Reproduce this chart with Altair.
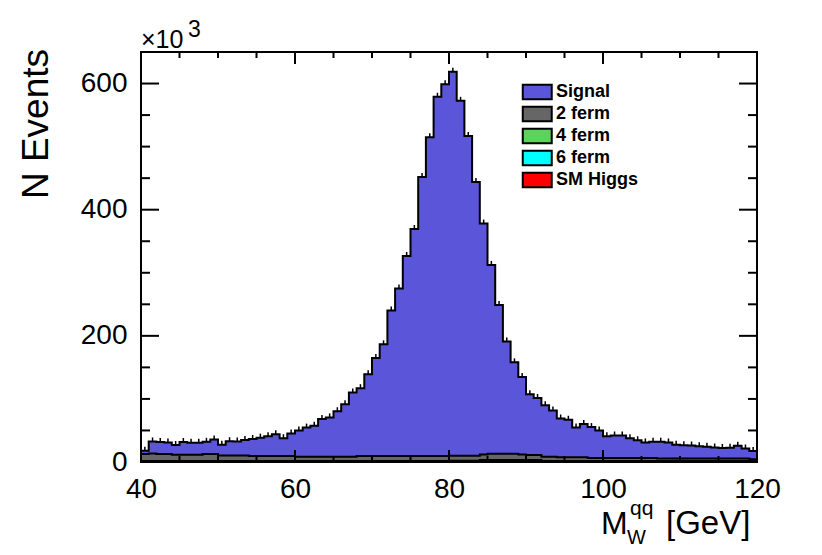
import altair as alt
import pandas as pd

# ---------------- data (values in units of 10^3 events) ----------------
bin_low = list(range(40, 120))  # 1 GeV bins from 40 to 120 GeV

signal = [5.5, 19.1, 19.2, 18.5, 15.5, 20.2, 19.0, 19.0, 19.5, 23.3,
          17.0, 22.5, 22.0, 24.5, 27.0, 29.1, 31.2, 34.5, 28.2, 35.5,
          41.5, 46.0, 49.0, 59.8, 62.2, 72.0, 83.0, 101.5, 107.5, 129.5,
          155.2, 177.0, 230.5, 265.5, 317.2, 359.9, 442.5, 505.5, 569.5, 589.5,
          608.5, 562.6, 507.0, 434.0, 366.0, 299.4, 236.0, 178.0, 145.0, 122.6,
          96.5, 90.5, 81.5, 73.0, 61.5, 59.5, 47.0, 52.8, 48.9, 43.3,
          34.5, 35.5, 35.5, 31.2, 28.0, 24.5, 25.8, 26.5, 25.5, 21.8,
          21.2, 20.7, 19.5, 18.8, 17.5, 16.8, 17.0, 20.2, 16.0, 12.9]

two_ferm = [11, 12, 11, 11, 10, 10, 10, 10, 11, 11,
            9, 9, 9, 9, 8, 8, 8, 8, 8, 8,
            7, 7, 7, 7, 7, 7, 7, 7, 8, 8,
            8, 8, 8, 8, 8, 8, 8, 8, 8, 8,
            8, 8, 8, 8, 9, 10, 10, 10, 10, 9,
            8, 8, 7, 7, 6, 6, 6, 6, 5, 5,
            5, 5, 5, 5, 5, 5, 5, 4, 4, 4,
            4, 4, 4, 4, 4, 4, 4, 4, 4, 3]

four_ferm = [1, 1, 1, 1, 1, 1, 1, 1, 1, 1,
             1, 1, 1, 1, 1, 1, 1, 1, 1, 1,
             1, 1, 1, 1, 1, 1, 1, 1, 1, 1,
             1, 1, 1, 1, 1, 1, 1, 1, 1, 1,
             1.5, 1.5, 1.5, 1.5, 2.5, 2.5, 2.5, 2.5, 2.5, 2.5,
             2.5, 2.5, 1, 1, 1, 1, 1, 1, 1, 1,
             1, 1, 1, 1, 1, 1, 1, 1, 1, 1,
             1, 1, 1, 1, 1, 1, 1, 1, 1, 1]

six_ferm = [0.3, 0.3, 0.3, 0.3, 0.3, 0.3, 0.3, 0.3, 0.3, 0.3,
            0.3, 0.3, 0.3, 0.3, 0.3, 0.3, 0.3, 0.3, 0.3, 0.3,
            0.3, 0.3, 0.3, 0.3, 0.3, 0.3, 0.3, 0.3, 0.3, 0.3,
            0.3, 0.3, 0.3, 0.3, 0.3, 0.3, 0.3, 0.3, 0.3, 0.3,
            0.3, 0.3, 0.3, 0.3, 0.3, 0.3, 0.3, 0.3, 0.3, 0.3,
            0.3, 0.3, 0.3, 0.3, 0.3, 0.3, 0.3, 0.3, 0.3, 0.3,
            0.3, 0.3, 0.3, 0.3, 0.3, 0.3, 0.3, 0.3, 0.3, 0.3,
            0.3, 0.3, 0.3, 0.3, 0.3, 0.3, 0.3, 0.3, 0.3, 0.3]

sm_higgs = [0.2, 0.2, 0.2, 0.2, 0.2, 0.2, 0.2, 0.2, 0.2, 0.2,
            0.2, 0.2, 0.2, 0.2, 0.2, 0.2, 0.2, 0.2, 0.2, 0.2,
            0.2, 0.2, 0.2, 0.2, 0.2, 0.2, 0.2, 0.2, 0.2, 0.2,
            0.2, 0.2, 0.2, 0.2, 0.2, 0.2, 0.2, 0.2, 0.2, 0.2,
            0.2, 0.2, 0.2, 0.2, 0.2, 0.2, 0.2, 0.2, 0.2, 0.2,
            0.2, 0.2, 0.2, 0.2, 0.2, 0.2, 0.2, 0.2, 0.2, 0.2,
            0.2, 0.2, 0.2, 0.2, 0.2, 0.2, 0.2, 0.2, 0.2, 0.2,
            0.2, 0.2, 0.2, 0.2, 0.2, 0.2, 0.2, 0.2, 0.2, 0.2]

series_names = ["Signal", "2 ferm", "4 ferm", "6 ferm", "SM Higgs"]
series_colors = ["#5a55d9", "#666666", "#5bd45b", "#00ffff", "#ff0000"]
stack_rank = {"SM Higgs": 0, "6 ferm": 1, "4 ferm": 2, "2 ferm": 3, "Signal": 4}

x_major = [40, 60, 80, 100, 120]
x_minor = [45, 50, 55, 65, 70, 75, 85, 90, 95, 105, 110, 115]
y_major = [0, 200, 400, 600]
y_minor = [50, 100, 150, 250, 300, 350, 450, 500, 550]

exp_text = ["×10"]
exp_power = ["3"]
y_title = ["N Events"]
x_title_main = ["M"]
x_title_sub = ["W"]
x_title_sup = ["qq"]
x_title_unit = ["[GeV]"]

FONT = "Liberation Sans"
W, H = 616, 410

# ---------------- table for the library ----------------
rows = []
for name, vals in zip(series_names, [signal, two_ferm, four_ferm, six_ferm, sm_higgs]):
    for x, v in zip(bin_low + [120], vals + [vals[-1]]):
        rows.append({"x": x, "value": v, "series": name, "rank": stack_rank[name]})
df = pd.DataFrame(rows)

xscale = alt.Scale(domain=[40, 120], nice=False, zero=False)
yscale = alt.Scale(domain=[0, 650], nice=False)

base = alt.Chart(df).transform_stack(
    stack="value", groupby=["x"], sort=[alt.SortField("rank", order="ascending")],
    as_=["y0", "y1"]
)

area = base.mark_area(interpolate="step-after", opacity=1).encode(
    x=alt.X("x:Q", scale=xscale,
            axis=alt.Axis(values=x_major, ticks=False, domain=False, grid=False,
                          title=None, labelFont=FONT, labelFontSize=28,
                          labelColor="black", labelPadding=35,
                          labelBaseline="alphabetic", labelFlush=False,
                          labelOverlap=False, tickSize=0)),
    y=alt.Y("y1:Q", scale=yscale,
            axis=alt.Axis(values=y_major, ticks=False, domain=False, grid=False,
                          title=None, labelFont=FONT, labelFontSize=28,
                          labelColor="black", labelPadding=14, tickSize=0,
                          labelOverlap=False)),
    y2="y0:Q",
    color=alt.Color("series:N",
                    scale=alt.Scale(domain=series_names, range=series_colors),
                    legend=alt.Legend(orient="none", legendX=380, legendY=31,
                                      title=None, padding=0,
                                      symbolType="M-1,-1H3V1H-1Z",
                                      symbolSize=210, symbolStrokeColor="black",
                                      symbolStrokeWidth=2, symbolOpacity=1,
                                      labelFont=FONT, labelFontWeight="bold",
                                      labelFontSize=18, labelColor="black",
                                      labelOffset=17, rowPadding=-2)),
)

lines = base.mark_line(interpolate="step-after", color="black", strokeWidth=2).encode(
    x=alt.X("x:Q", scale=xscale),
    y=alt.Y("y1:Q", scale=yscale),
    detail="series:N",
)

errs = base.transform_filter(
    (alt.datum.series == "Signal") & (alt.datum.x < 120)
).transform_calculate(xc="datum.x + 0.5").mark_rule(
    color="black", strokeWidth=1.5, yOffset=-4, y2Offset=0
).encode(
    x=alt.X("xc:Q", scale=xscale),
    y=alt.Y("y1:Q", scale=yscale),
    y2="y1:Q",
)


def vticks(vals, y_a, y_b):
    return alt.Chart(pd.DataFrame({"v": vals})).mark_rule(color="black", strokeWidth=2).encode(
        x=alt.X("v:Q", scale=xscale), y=alt.value(y_a), y2=alt.value(y_b))


def hticks(vals, x_a, x_b):
    return alt.Chart(pd.DataFrame({"v": vals})).mark_rule(color="black", strokeWidth=2).encode(
        y=alt.Y("v:Q", scale=yscale), x=alt.value(x_a), x2=alt.value(x_b))


ticks = [
    vticks(x_major, H, H - 12), vticks(x_minor, H, H - 6),
    vticks(x_major, 0, 12), vticks(x_minor, 0, 6),
    hticks(y_major, 0, 18), hticks(y_minor, 0, 9),
    hticks(y_major, W, W - 18), hticks(y_minor, W, W - 9),
]


def label(txt, x, y, size, align="left", angle=0, baseline="alphabetic"):
    return alt.Chart(pd.DataFrame({"t": txt})).mark_text(
        font=FONT, fontSize=size, color="black", align=align, baseline=baseline,
        angle=angle
    ).encode(text="t:N", x=alt.value(x), y=alt.value(y))


texts = [
    label(exp_text, 0, -4, 25),
    label(exp_power, 47, -15, 23),
    label(y_title, -93, 72, 37, align="center", angle=270),
    label(x_title_main, 460, 482, 32),
    label(x_title_sub, 486, 492, 20),
    label(x_title_sup, 489, 463, 21),
    label(x_title_unit, 525, 482, 33),
]

chart = alt.layer(area, lines, errs, *ticks, *texts).properties(
    width=W, height=H,
    autosize=alt.AutoSizeParams(type="none"),
    padding={"left": 133, "top": 44, "right": 56, "bottom": 85},
    background="white",
).configure_view(stroke="black", strokeWidth=2)

chart.save("out.html", embed_options={"renderer": "svg", "actions": False})
